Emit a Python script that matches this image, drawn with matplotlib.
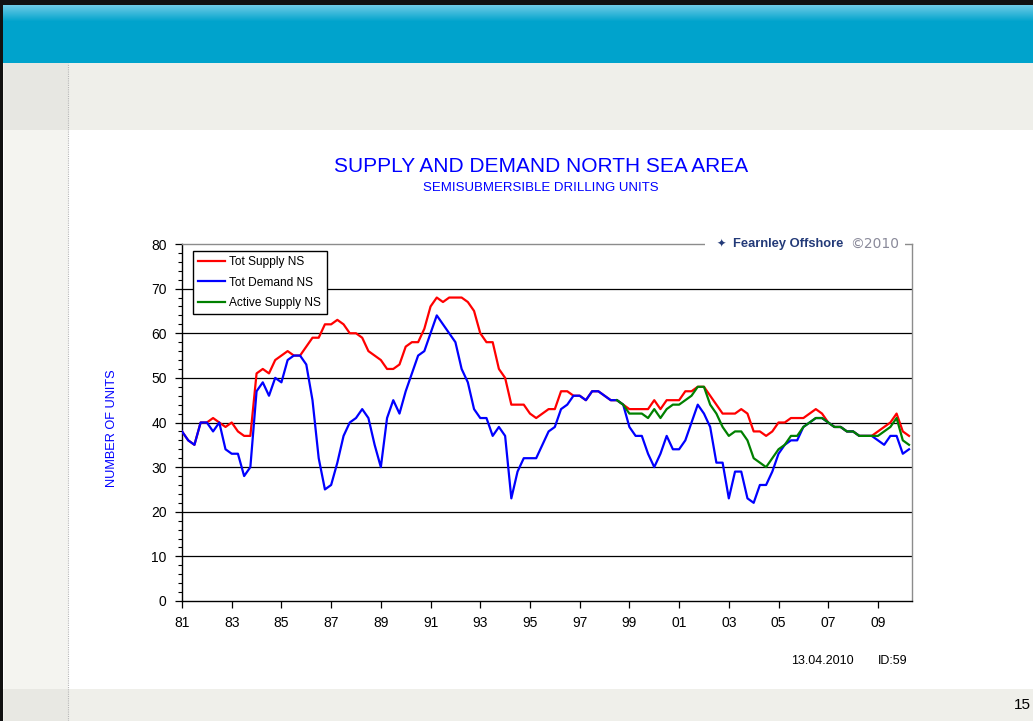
import numpy as np
import pandas as pd
import matplotlib
matplotlib.use("Agg")
import matplotlib.pyplot as plt
from matplotlib.patches import Rectangle
from matplotlib.lines import Line2D
from matplotlib.ticker import MultipleLocator, FixedLocator

# ---------------- data (quarterly, 1981Q1 .. 2010Q2) ----------------
quarters = pd.period_range("1981Q1", "2010Q2", freq="Q")

tot_supply = [38, 36, 35, 40, 40, 41, 40, 39, 40, 38, 37, 37, 51, 52, 51, 54, 55, 56, 55, 55,
              57, 59, 59, 62, 62, 63, 62, 60, 60, 59, 56, 55, 54, 52, 52, 53, 57, 58, 58, 61,
              66, 68, 67, 68, 68, 68, 67, 65, 60, 58, 58, 52, 50, 44, 44, 44, 42, 41, 42, 43,
              43, 47, 47, 46, 46, 45, 47, 47, 46, 45, 45, 44, 43, 43, 43, 43, 45, 43, 45, 45,
              45, 47, 47, 48, 48, 46, 44, 42, 42, 42, 43, 42, 38, 38, 37, 38, 40, 40, 41, 41,
              41, 42, 43, 42, 40, 39, 39, 38, 38, 37, 37, 37, 38, 39, 40, 42, 38, 37]

tot_demand = [38, 36, 35, 40, 40, 38, 40, 34, 33, 33, 28, 30, 47, 49, 46, 50, 49, 54, 55, 55,
              53, 45, 32, 25, 26, 31, 37, 40, 41, 43, 41, 35, 30, 41, 45, 42, 47, 51, 55, 56,
              60, 64, 62, 60, 58, 52, 49, 43, 41, 41, 37, 39, 37, 23, 29, 32, 32, 32, 35, 38,
              39, 43, 44, 46, 46, 45, 47, 47, 46, 45, 45, 44, 39, 37, 37, 33, 30, 33, 37, 34,
              34, 36, 40, 44, 42, 39, 31, 31, 23, 29, 29, 23, 22, 26, 26, 29, 33, 35, 36, 36,
              39, 40, 41, 41, 40, 39, 39, 38, 38, 37, 37, 37, 36, 35, 37, 37, 33, 34]

active_start = "1998Q3"
active_supply = [45, 44, 42, 42, 42, 41, 43, 41, 43, 44, 44, 45, 46, 48, 48, 44, 42, 39, 37, 38,
                 38, 36, 32, 31, 30, 32, 34, 35, 37, 37, 39, 40, 41, 41, 40, 39, 39, 38, 38, 37,
                 37, 37, 37, 38, 39, 41, 36, 35]

series_names = ["Tot Supply NS", "Tot Demand NS", "Active Supply NS"]
x_tick_labels = ["81", "83", "85", "87", "89", "91", "93", "95", "97", "99",
                 "01", "03", "05", "07", "09"]
title = "SUPPLY AND DEMAND NORTH SEA AREA"
subtitle = "SEMISUBMERSIBLE DRILLING UNITS"
y_label = "NUMBER OF UNITS"

# ---------------- figure / page ----------------
W, H = 1033, 721
fig = plt.figure(figsize=(W / 100, H / 100), dpi=100)
fig.patch.set_facecolor("white")

def px_rect(x0, y0, x1, y1, color, z=0):
    fig.patches.append(Rectangle((x0 / W, 1 - y1 / H), (x1 - x0) / W, (y1 - y0) / H,
                                 transform=fig.transFigure, facecolor=color,
                                 edgecolor="none", zorder=z))

px_rect(0, 63, W, 130, "#efefea")
px_rect(4, 63, 68, 130, "#e7e7e2")
px_rect(4, 130, 68, 689, "#f4f4f0")
px_rect(0, 689, W, H, "#efefea")
px_rect(4, 689, 68, H, "#e8e8e3")
px_rect(0, 0, 3, H, "#111111", z=2)
px_rect(0, 0, W, 5, "#111111", z=2)

# header gradient band
hax = fig.add_axes([3 / W, 1 - 63 / H, 1 - 3 / W, 58 / H])
grad = np.ones((58, 2, 3))
top = np.array([0x6c, 0xcb, 0xe6]) / 255
mid = np.array([0x00, 0xa3, 0xcc]) / 255
for i in range(58):
    t = min(i / 16.0, 1.0)
    grad[i, :, :] = top * (1 - t) + mid * t
hax.imshow(grad, aspect="auto", extent=[0, 1, 0, 1])
hax.axis("off")

fig.lines.append(Line2D([68 / W, 68 / W], [0, 1 - 63 / H], transform=fig.transFigure,
                        color="#b5b5b5", lw=0.8, ls=(0, (1, 1))))

# ---------------- chart ----------------
def qx(periods):
    return np.array([p.year + (p.quarter - 1) / 4 for p in periods])

x_all = qx(quarters)
act_q = pd.period_range(active_start, periods=len(active_supply), freq="Q")
x_act = qx(act_q)

ax = fig.add_axes([182 / W, 1 - 601 / H, (912 - 182) / W, (601 - 244) / H])
ax.set_facecolor("white")

colors = ["#ff0000", "#0000ff", "#008000"]
ax.plot(x_all, tot_supply, color=colors[0], lw=1.6, label=series_names[0], zorder=3)
ax.plot(x_all, tot_demand, color=colors[1], lw=1.6, label=series_names[1], zorder=4)
ax.plot(x_act, active_supply, color=colors[2], lw=1.6, label=series_names[2], zorder=5)

ax.set_xlim(1981, 2010.37)
ax.set_ylim(0, 80)
ax.yaxis.set_major_locator(MultipleLocator(10))
ax.yaxis.set_minor_locator(MultipleLocator(2))
tick_pos = [1981 + 2 * i for i in range(len(x_tick_labels))]
ax.xaxis.set_major_locator(FixedLocator(tick_pos))
ax.set_xticklabels(x_tick_labels)

for yv in range(10, 80, 10):
    ax.axhline(yv, color="black", lw=0.9, zorder=1)

for s in ["left", "bottom"]:
    ax.spines[s].set_color("black")
    ax.spines[s].set_linewidth(1.0)
for s in ["top", "right"]:
    ax.spines[s].set_color("#8c8c8c")
    ax.spines[s].set_linewidth(1.0)

tfont = ["Liberation Sans", "DejaVu Sans"]
ax.tick_params(axis="both", which="major", direction="out", length=5, width=0.9,
               labelsize=10, colors="black", pad=6)
ax.tick_params(axis="y", which="minor", direction="out", length=3, width=0.8)
for lab in ax.get_xticklabels() + ax.get_yticklabels():
    lab.set_family(tfont)

leg = ax.legend(loc="upper left", bbox_to_anchor=(0.015, 0.981), borderaxespad=0,
                frameon=True, fancybox=False, edgecolor="black", framealpha=1,
                borderpad=0.45, handlelength=2.2, handletextpad=0.4, labelspacing=0.7,
                prop={"family": tfont, "size": 8.6})
leg.get_frame().set_linewidth(1.0)
leg.set_zorder(10)

# logo over top frame line
narrow = ["Liberation Sans Narrow", "Liberation Sans", "DejaVu Sans"]
ax.add_patch(Rectangle(((705 - 182) / 730, 0.985), (905 - 705) / 730, 0.03,
                       transform=ax.transAxes, facecolor="white", edgecolor="none",
                       clip_on=False, zorder=6))
ax.text((733 - 182) / 730, 1.0, "Fearnley Offshore", transform=ax.transAxes,
        ha="left", va="center", fontsize=9.3, fontweight="bold", color="#233a78",
        family=narrow, zorder=7, clip_on=False)
ax.text((850 - 182) / 730, 1.0, "\u00a92010", transform=ax.transAxes,
        ha="left", va="center", fontsize=10, color="#8a8a9a",
        family=["DejaVu Sans"], zorder=7, clip_on=False)
ax.text((721 - 182) / 730, 1.0, "\u2726", transform=ax.transAxes,
        ha="center", va="center", fontsize=8, color="#233a78",
        family=["DejaVu Sans"], zorder=7, clip_on=False)

# titles
fig.text(541 / W, 1 - 166 / H, title, ha="center", va="center", fontsize=15,
         color="#0000ff", family=tfont)
fig.text(541 / W, 1 - 188 / H, subtitle, ha="center", va="center", fontsize=9.5,
         color="#0000ff", family=tfont)
fig.text(112 / W, 1 - 428 / H, y_label, ha="center", va="center", rotation=90,
         fontsize=9.2, color="#0000ff", family=tfont)

# footer
fig.text(822 / W, 1 - 661 / H, "13.04.2010", ha="center", va="center", fontsize=9,
         color="black", family=narrow)
fig.text(893 / W, 1 - 661 / H, "ID:59", ha="center", va="center", fontsize=9,
         color="black", family=narrow)
fig.text(1014 / W, 1 - 705 / H, "15", ha="left", va="center", fontsize=11,
         color="black", family=tfont)

fig.savefig("out.png", dpi=100)
